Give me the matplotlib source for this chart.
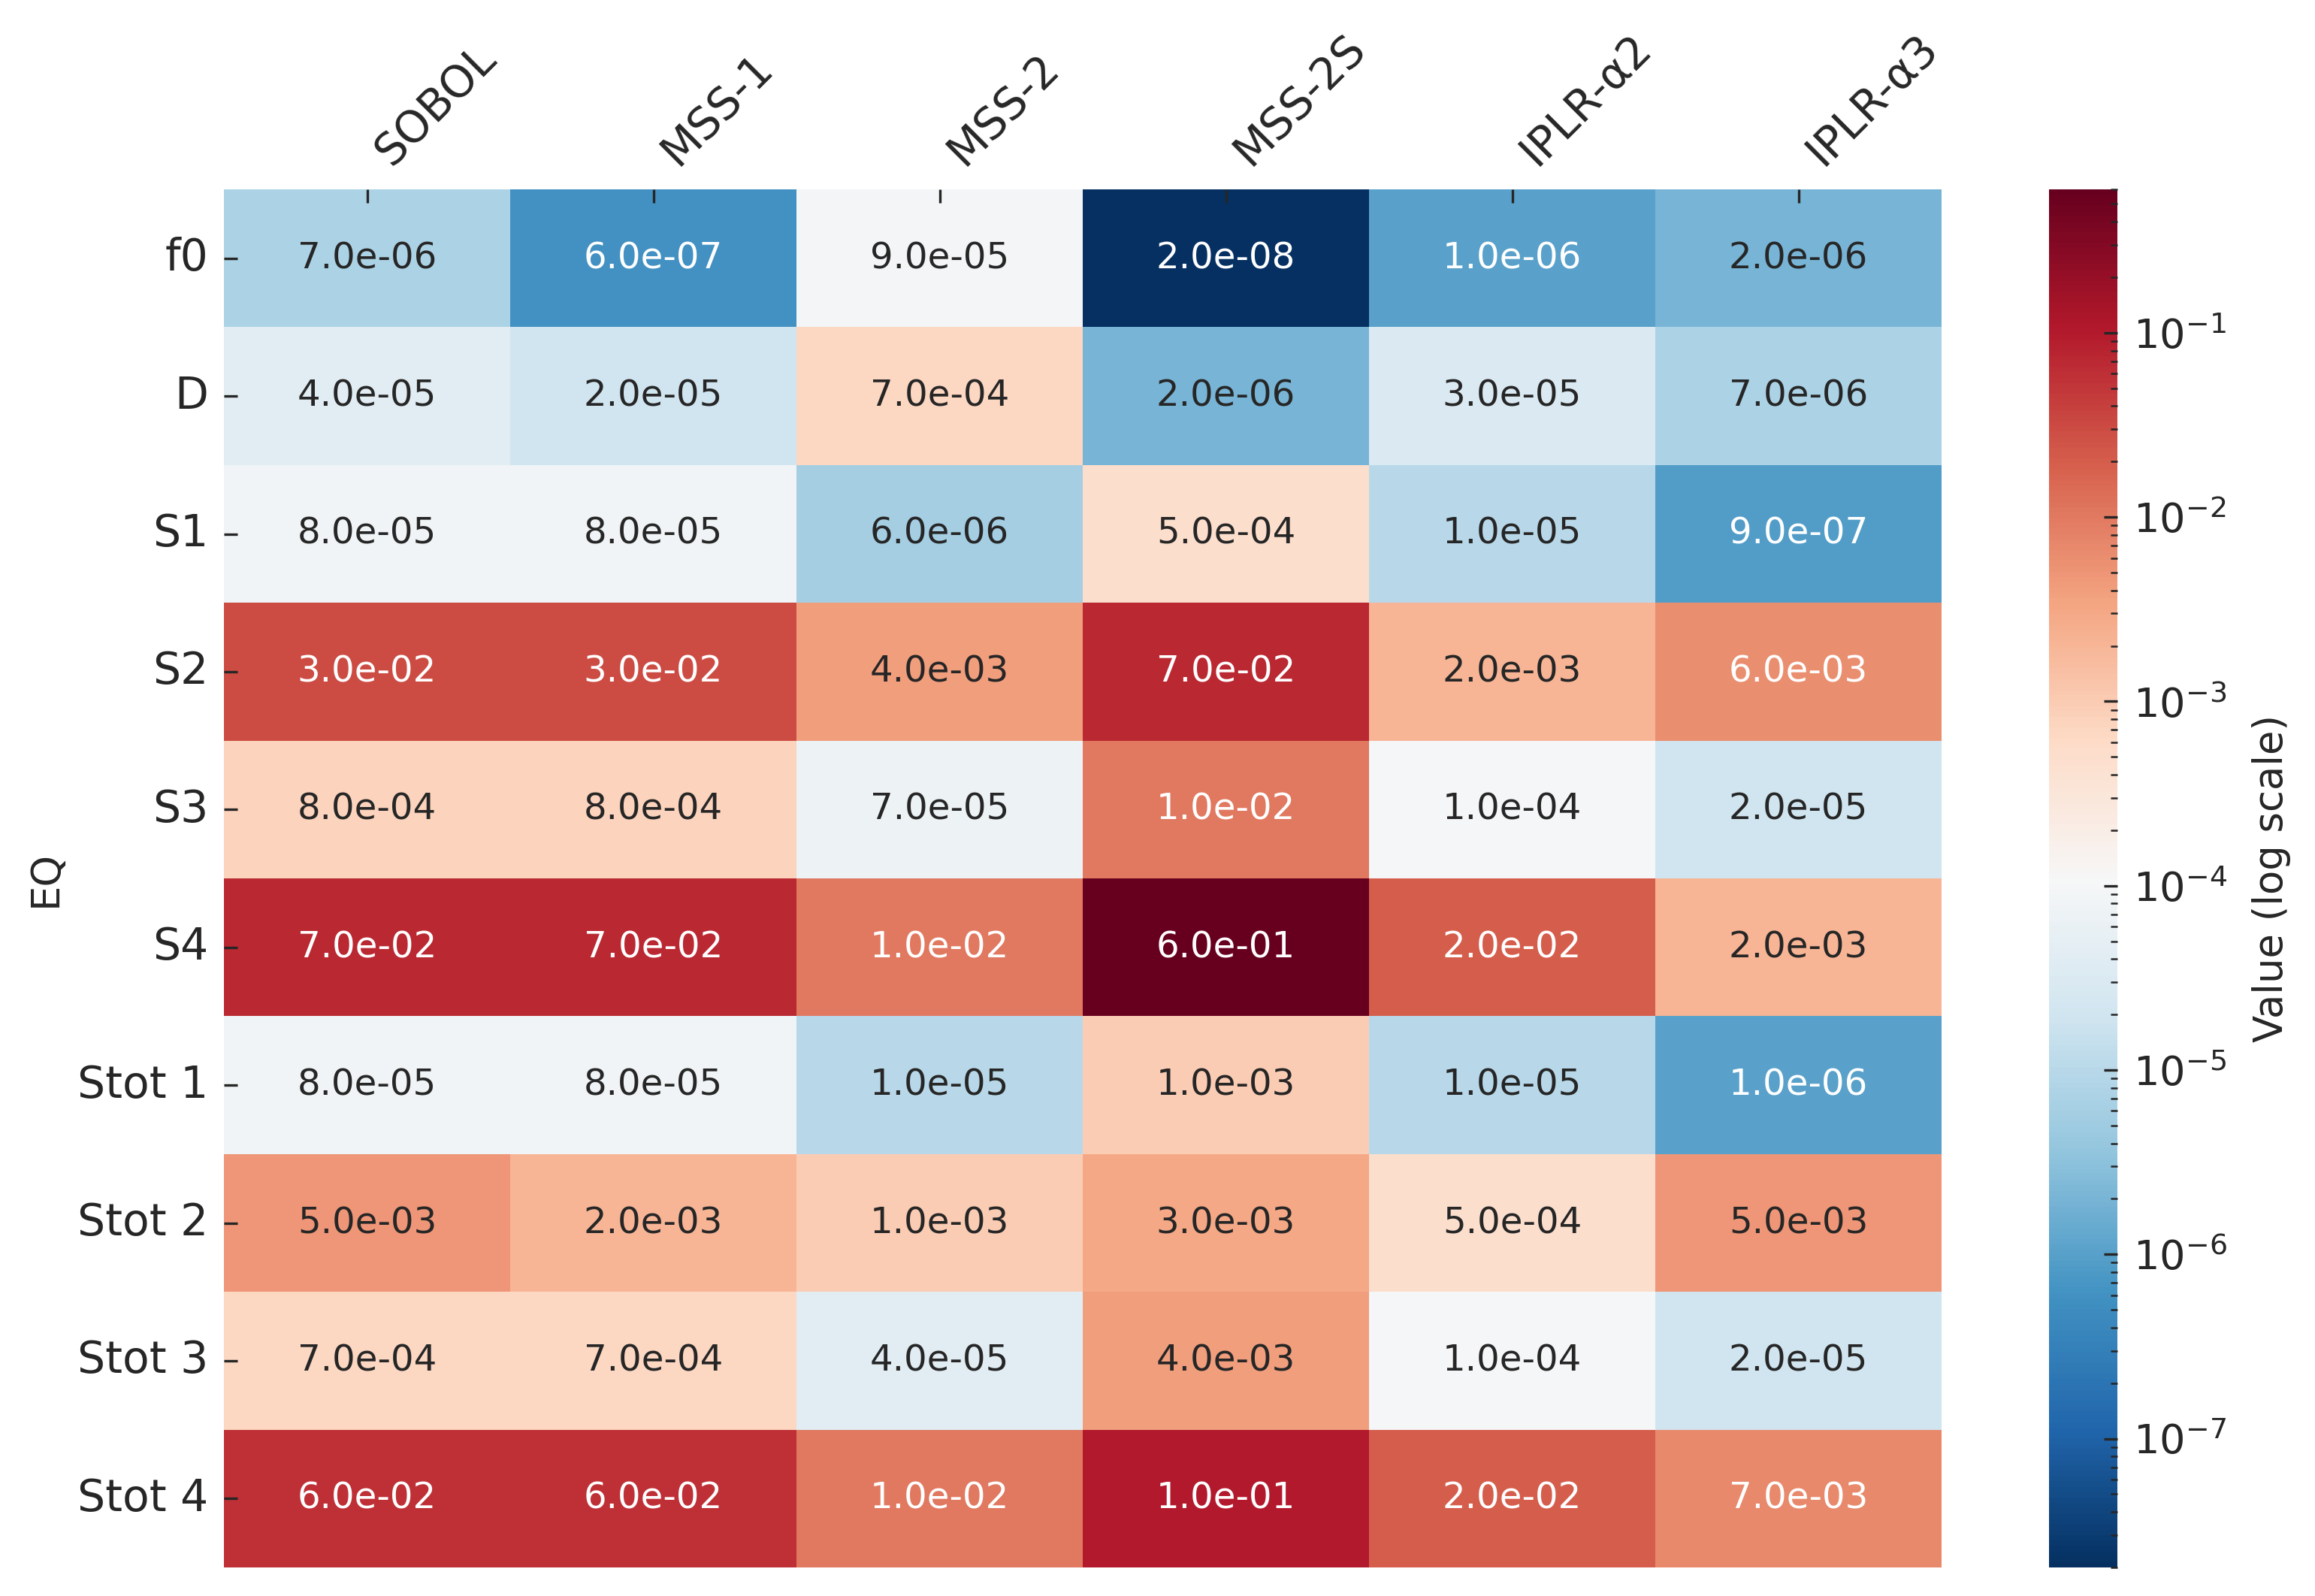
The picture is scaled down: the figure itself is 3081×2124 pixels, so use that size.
import numpy as np
import pandas as pd
import matplotlib
matplotlib.use('Agg')
from matplotlib import pyplot as plt
from matplotlib.colors import LogNorm
import seaborn as sns

# methods (columns) and quantities (rows)
methods = ['SOBOL', 'MSS-1', 'MSS-2', 'MSS-2S', 'IPLR-α2', 'IPLR-α3']
eq = ['f0', 'D', 'S1', 'S2', 'S3', 'S4', 'Stot 1', 'Stot 2', 'Stot 3', 'Stot 4']

# error values, one list per row
f0 = [7e-06, 6e-07, 9e-05, 2e-08, 1e-06, 2e-06]
D = [4e-05, 2e-05, 7e-04, 2e-06, 3e-05, 7e-06]
S1 = [8e-05, 8e-05, 6e-06, 5e-04, 1e-05, 9e-07]
S2 = [3e-02, 3e-02, 4e-03, 7e-02, 2e-03, 6e-03]
S3 = [8e-04, 8e-04, 7e-05, 1e-02, 1e-04, 2e-05]
S4 = [7e-02, 7e-02, 1e-02, 6e-01, 2e-02, 2e-03]
Stot1 = [8e-05, 8e-05, 1e-05, 1e-03, 1e-05, 1e-06]
Stot2 = [5e-03, 2e-03, 1e-03, 3e-03, 5e-04, 5e-03]
Stot3 = [7e-04, 7e-04, 4e-05, 4e-03, 1e-04, 2e-05]
Stot4 = [6e-02, 6e-02, 1e-02, 1e-01, 2e-02, 7e-03]

df = pd.DataFrame([f0, D, S1, S2, S3, S4, Stot1, Stot2, Stot3, Stot4],
                  index=eq, columns=methods)
df.index.name = 'EQ'

sns.set_theme(style='ticks')
plt.rcParams['font.family'] = ['DejaVu Sans']

W, H = 3081, 2124
fig = plt.figure(figsize=(W / 300, H / 300), dpi=300)
# heatmap box and colorbar box, in pixels of the output
ax = fig.add_axes([298 / W, 1 - 2086 / H, (2584 - 298) / W, (2086 - 252) / H])
cax = fig.add_axes([2727 / W, 1 - 2086 / H, (2818 - 2727) / W, (2086 - 252) / H])

norm = LogNorm(vmin=df.values.min(), vmax=df.values.max())
sns.heatmap(df, ax=ax, cbar_ax=cax, cmap='RdBu_r', norm=norm,
            annot=True, fmt='.1e', annot_kws={'fontsize': 11.6})

# ticks point into the cells, drawn on top of them
ax.set_axisbelow(False)
cax.set_axisbelow(False)

ax.xaxis.tick_top()
ax.set_xlabel('')
ax.tick_params(direction='in', length=4.3, width=0.8, pad=5, color='.15')
plt.setp(ax.get_xticklabels(), rotation=45, ha='left', fontsize=14)
plt.setp(ax.get_yticklabels(), rotation=0, fontsize=14)
ax.set_ylabel('EQ', fontsize=12.7)

cax.tick_params(which='major', direction='in', length=4.3, width=0.8,
                labelsize=13, pad=5, color='.15')
cax.tick_params(which='minor', direction='in', length=2.2, width=0.6, color='.15')
cax.set_ylabel('Value (log scale)', fontsize=12.7)
cax.yaxis.set_label_coords(2.97, 0.5)

fig.savefig('out.png', dpi=300)
